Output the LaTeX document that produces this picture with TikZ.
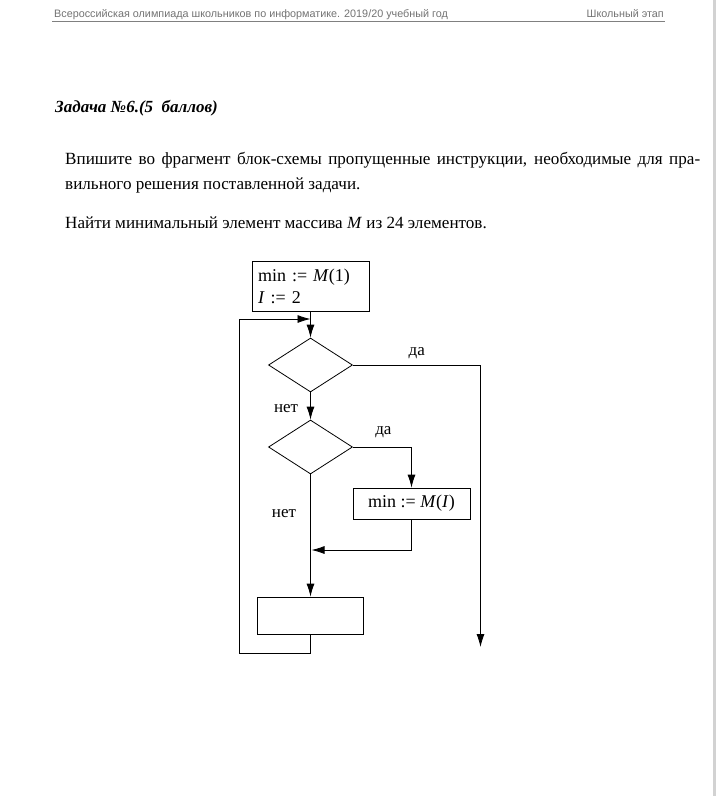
\documentclass[tikz,border=0pt]{standalone}
\usepackage{fontspec}
\setmainfont{Liberation Serif}
\newfontfamily\headfont{Liberation Sans}
\usetikzlibrary{positioning, shapes.geometric, arrows.meta}

\begin{document}
\begin{tikzpicture}[
    x=1pt, y=-1pt,
    every node/.style={font=\fontsize{18}{21}\selectfont},
    head/.style={font=\headfont\fontsize{10.8}{12}\selectfont, text=black!55, inner sep=0pt},
    para/.style={font=\fontsize{17.1}{25}\selectfont, inner sep=0pt, anchor=base west},
    proc/.style={draw, thick, minimum height=30pt, inner sep=3pt},
    cond/.style={draw, thick, diamond, minimum width=84pt, minimum height=54pt, inner sep=0pt},
    link/.style={-{Latex[length=13pt, width=8pt]}, thick},
    lbl/.style={font=\fontsize{17}{20}\selectfont, inner sep=0pt},
  ]
    \useasboundingbox[fill=white] (0,0) rectangle (720,796);
    % page edge and header
    \draw[gray!35, line width=3pt] (714.5,0) -- (714.5,796);
    \node[head, anchor=base west] (hdl) at (54,17.5)
      {Всероссийская олимпиада школьников по информатике. 2019/20 учебный год};
    \node[head, anchor=base east] (hdr) at (664,17.5) {Школьный этап};
    \draw[black!50] (52,21) -- (665,21);
    % task text
    \node[para, font=\bfseries\itshape\fontsize{17}{19}\selectfont] (title) at (55,112)
      {Задача №6.(5~~баллов)};
    \node[para] (p1) at (65,164)
      {\makebox[635pt][s]{Впишите во фрагмент блок-схемы пропущенные инструкции, необходимые для пра-}};
    \node[para] (p2) at (65,189) {вильного решения поставленной задачи.};
    \node[para] (p3) at (65,228)
      {Найти минимальный элемент массива \textit{M} из 24 элементов.};

    % flowchart
    \node[proc, minimum width=117pt, minimum height=50pt, align=left, text width=105pt,
          font=\fontsize{18}{22}\selectfont]
      (init) at (310.5,286) {min := \textit{M}(1)\\ \textit{I} := 2};
    \node[cond] (d1) at (310.5,365) {};
    \node[cond] (d2) at (310.5,447) {};
    \node[proc, minimum width=117pt, minimum height=31pt] (upd) at (411.5,503.5)
      {min := \textit{M}(\textit{I})};
    \node[proc, minimum width=106pt, minimum height=37pt] (blank) at (310.5,615.5) {};
    \coordinate (back) at (310.5,319);
    \coordinate (loopL) at (239,653);
    \coordinate (merge) at (311.5,550);
    \coordinate (exit) at (480.5,647);

    \draw[link] (init) -- (d1);
    \draw[link] (d1) -- node[lbl, left=12pt, pos=0.6]{нет} (d2);
    \draw[link] (d1.east) -| node[lbl, above=6pt, pos=0.25]{да} (exit);
    \draw[link] (d2.east) -| node[lbl, above=9pt, pos=0.26]{да} (upd.north);
    \draw[link] (d2) -- (blank);
    \draw[link] (upd.south) |- (merge);
    \draw[link] (blank.south) |- (loopL) |- (back);
    \node[lbl] (no2) at (284,514) {нет};
  \end{tikzpicture}
\end{document}
